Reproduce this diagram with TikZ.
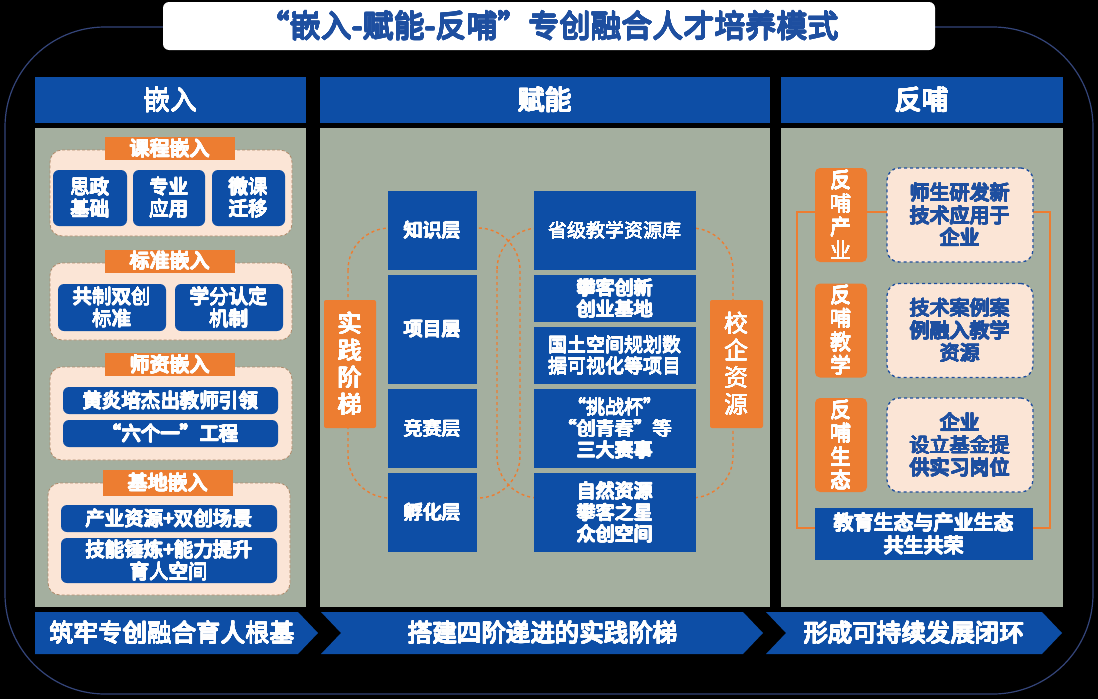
\documentclass[tikz,border=0pt]{standalone}
\usepackage{fontspec}
\setmainfont{Noto Sans CJK SC}
\usepackage[copies]{contour}
\contourlength{0.45pt}
\contournumber{16}
\definecolor{cblue}{HTML}{0D4EA6}
\definecolor{cpanel}{HTML}{A4AF9F}
\definecolor{corange}{HTML}{ED7D31}
\definecolor{cpeach}{HTML}{FBE5D6}
\definecolor{ctitle}{HTML}{1E4FA0}
\definecolor{cframe}{HTML}{34457A}
\definecolor{cdash}{HTML}{B08A6A}
\newcommand{\fs}[2]{\fontsize{#1pt}{#2pt}\selectfont}
\newcommand{\bw}[1]{\contour{white}{#1}}
\newcommand{\bb}[1]{\contour{ctitle}{#1}}
\tikzset{
  every node/.style={inner sep=0pt, outer sep=0pt, align=center},
  hdr/.style={fill=cblue, text=white, font=\fs{27}{30}},
  panel/.style={fill=cpanel},
  grp/.style={fill=cpeach, draw=cdash, densely dashed, line width=0.8pt, rounded corners=12pt},
  olab/.style={fill=corange, text=white, font=\fs{20}{23}},
  bbox/.style={fill=cblue, text=white, rounded corners=6pt, font=\fs{19.5}{22}},
  sq/.style={fill=cblue, text=white, font=\fs{19}{21.5}},
  vlab/.style={fill=corange, text=white, font=\fs{24}{27}, rounded corners=2pt},
  rlab/.style={fill=corange, text=white, font=\fs{21}{23.5}, rounded corners=5pt},
  dbox/.style={fill=cpeach, draw=ctitle, dashed, line width=1.3pt, rounded corners=12pt, text=ctitle, font=\fs{20}{22.5}},
  loop/.style={draw=corange, dashed, line width=1.4pt, rounded corners=42pt},
}
\begin{document}
\begin{tikzpicture}[x=1pt,y=-1pt]
\useasboundingbox (0,0) rectangle (1098,699);
\fill[black] (0,0) rectangle (1098,699);
% outer frame
\draw[cframe, line width=1.2pt, rounded corners=100pt] (5,27) rectangle (1093,694);
% title
\node[fill=white, rounded corners=6pt, minimum width=772pt, minimum height=48pt, text=ctitle, font=\fs{31}{34}] (title) at (549,26) {\contourlength{0.6pt}\bb{“嵌入-赋能-反哺”专创融合人才培养模式}};
% headers
\node[hdr, minimum width=271pt, minimum height=46pt] (h1) at (170.5,100) {\bw{嵌入}};
\node[hdr, minimum width=450pt, minimum height=46pt] (h2) at (545,100) {\bw{赋能}};
\node[hdr, minimum width=282pt, minimum height=46pt] (h3) at (922,100) {\bw{反哺}};
% panels
\node[panel, minimum width=271pt, minimum height=479pt] (p1) at (170.5,367.5) {};
\node[panel, minimum width=450pt, minimum height=479pt] (p2) at (545,367.5) {};
\node[panel, minimum width=282pt, minimum height=479pt] (p3) at (922,367.5) {};

% ---------- left panel ----------
\node[grp, minimum width=242pt, minimum height=86pt] (g1) at (171,193) {};
\node[olab, minimum width=130pt, minimum height=23pt] (l1) at (170,148.5) {\bw{课程嵌入}};
\node[bbox, minimum width=74pt, minimum height=56pt] (b11) at (90,198) {\bw{思政}\\\bw{基础}};
\node[bbox, minimum width=72pt, minimum height=56pt] (b12) at (169,198) {\bw{专业}\\\bw{应用}};
\node[bbox, minimum width=73pt, minimum height=56pt] (b13) at (248.5,198) {\bw{微课}\\\bw{迁移}};

\node[grp, minimum width=242pt, minimum height=77pt] (g2) at (171,301.5) {};
\node[olab, minimum width=130pt, minimum height=23pt] (l2) at (170,261) {\bw{标准嵌入}};
\node[bbox, minimum width=108pt, minimum height=47pt] (b21) at (112,307.5) {\bw{共制双创}\\\bw{标准}};
\node[bbox, minimum width=108pt, minimum height=47pt] (b22) at (229,307.5) {\bw{学分认定}\\\bw{机制}};

\node[grp, minimum width=242pt, minimum height=93pt] (g3) at (171,413.5) {};
\node[olab, minimum width=130pt, minimum height=23pt] (l3) at (170,364.5) {\bw{师资嵌入}};
\node[bbox, minimum width=215pt, minimum height=27pt] (b31) at (170.5,400.5) {\bw{黄炎培杰出教师引领}};
\node[bbox, minimum width=215pt, minimum height=27pt] (b32) at (170.5,433.5) {\bw{“六个一”工程}};

\node[grp, minimum width=242pt, minimum height=112pt] (g4) at (169,539) {};
\node[olab, minimum width=130pt, minimum height=26pt] (l4) at (168,483) {\bw{基地嵌入}};
\node[bbox, minimum width=216pt, minimum height=27pt] (b41) at (169,518.5) {\bw{产业资源+双创场景}};
\node[bbox, minimum width=216pt, minimum height=45pt] (b42) at (169,560.5) {\bw{技能锤炼+能力提升}\\\bw{育人空间}};

% ---------- middle panel ----------
\draw[loop] (348,228) rectangle (520,498);
\draw[loop] (497,228) rectangle (733,498);
\node[sq, minimum width=89pt, minimum height=79pt] (m1) at (432.5,230.5) {\bw{知识层}};
\node[sq, minimum width=89pt, minimum height=109pt] (m2) at (432.5,329.5) {\bw{项目层}};
\node[sq, minimum width=89pt, minimum height=79pt] (m3) at (432.5,428.5) {\bw{竞赛层}};
\node[sq, minimum width=89pt, minimum height=79pt] (m4) at (432.5,512.5) {\bw{孵化层}};
\node[sq, minimum width=162pt, minimum height=79pt] (r1) at (615,230.5) {\bw{省级教学资源库}};
\node[sq, minimum width=162pt, minimum height=47pt] (r2) at (615,298.5) {\bw{攀客创新}\\\bw{创业基地}};
\node[sq, minimum width=162pt, minimum height=57pt] (r3) at (615,355.5) {\bw{国土空间规划数}\\\bw{据可视化等项目}};
\node[sq, minimum width=162pt, minimum height=79pt] (r4) at (615,428.5) {\bw{“挑战杯”}\\\bw{“创青春”等}\\\bw{三大赛事}};
\node[sq, minimum width=162pt, minimum height=79pt] (r5) at (615,512.5) {\bw{自然资源}\\\bw{攀客之星}\\\bw{众创空间}};
\node[vlab, minimum width=52pt, minimum height=128pt] (v1) at (350,364) {\bw{实}\\\bw{践}\\\bw{阶}\\\bw{梯}};
\node[vlab, minimum width=53pt, minimum height=128pt] (v2) at (736.5,364) {\bw{校}\\\bw{企}\\\bw{资}\\\bw{源}};

% ---------- right panel ----------
\draw[corange, line width=1.2pt] (797,212) rectangle (1050,528);
\node[rlab, minimum width=52pt, minimum height=94pt] (f1) at (841,215) {\bw{反}\\\bw{哺}\\\bw{产}\\\bw{业}};
\node[rlab, minimum width=52pt, minimum height=94pt] (f2) at (841,330.5) {\bw{反}\\\bw{哺}\\\bw{教}\\\bw{学}};
\node[rlab, minimum width=52pt, minimum height=94pt] (f3) at (841,445) {\bw{反}\\\bw{哺}\\\bw{生}\\\bw{态}};
\node[dbox, minimum width=146pt, minimum height=94pt] (d1) at (960,215) {\bb{师生研发新}\\\bb{技术应用于}\\\bb{企业}};
\node[dbox, minimum width=146pt, minimum height=94pt] (d2) at (960,330.5) {\bb{技术案例案}\\\bb{例融入教学}\\\bb{资源}};
\node[dbox, minimum width=146pt, minimum height=94pt] (d3) at (960,445) {\bb{企业}\\\bb{设立基金提}\\\bb{供实习岗位}};
\node[fill=cblue, text=white, font=\fs{20}{22.5}, minimum width=218pt, minimum height=52pt] (eco) at (924,534) {\bw{教育生态与产业生态}\\\bw{共生共荣}};

% ---------- bottom arrows ----------
\fill[cblue] (35,612) -- (298,612) -- (318,633) -- (298,654) -- (35,654) -- cycle;
\node[text=white, font=\fs{24.5}{27}] (a1) at (172,633) {\bw{筑牢专创融合育人根基}};
\fill[cblue] (321,612) -- (743,612) -- (763,633) -- (743,654) -- (321,654) -- (341,633) -- cycle;
\node[text=white, font=\fs{24.5}{27}] (a2) at (543,633) {\bw{搭建四阶递进的实践阶梯}};
\fill[cblue] (766,612) -- (1042,612) -- (1062,633) -- (1042,654) -- (766,654) -- (786,633) -- cycle;
\node[text=white, font=\fs{24.5}{27}] (a3) at (914,633) {\bw{形成可持续发展闭环}};
\end{tikzpicture}
\end{document}
